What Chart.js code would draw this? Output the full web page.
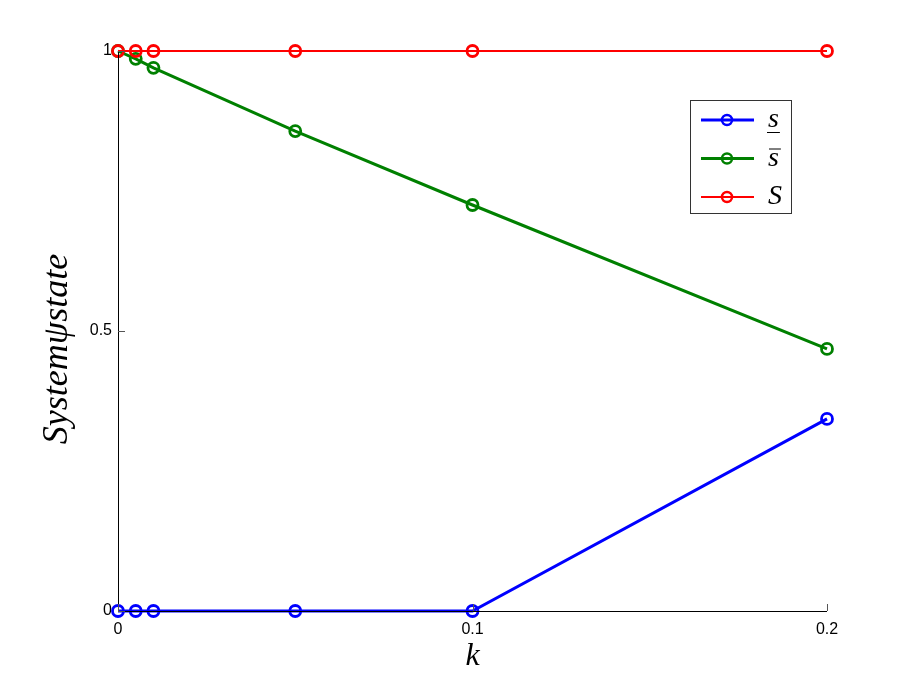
<!DOCTYPE html>
<html>
<head>
<meta charset="utf-8">
<script src="https://cdn.jsdelivr.net/npm/chart.js@4"></script>
<style>
  html, body { margin: 0; padding: 0; background: #fff; }
  #wrap { width: 914px; height: 688px; }
</style>
</head>
<body>
<div id="wrap"><canvas id="stateChart" width="914" height="688"></canvas></div>
<script>
// === Data ===
const kValues = [0, 0.005, 0.01, 0.05, 0.1, 0.2];
const sLower = [0, 0, 0, 0, 0, 0.343];
const sUpper = [1, 0.986, 0.97, 0.857, 0.725, 0.468];
const sTotal = [1, 1, 1, 1, 1, 1];
const xTicks = [0, 0.1, 0.2];
const yTicks = [0, 0.5, 1];
const seriesNames = ["s", "s", "S"];       // decorations: underline, overline, none
const seriesDeco = ["under", "over", "none"];
const seriesColors = ["#0000ff", "#008000", "#ff0000"];
const yTitle = "Systemψstate";

const toPoints = vals => kValues.map((k, i) => ({ x: k, y: vals[i] }));

// === Inward ticks + left/bottom axis lines (MATLAB style, box off) ===
const axesPlugin = {
  id: "matlabAxes",
  afterDatasetsDraw(chart) {
    const { ctx, chartArea: a, scales: { x, y } } = chart;
    ctx.save();
    ctx.strokeStyle = "#000";
    ctx.lineWidth = 1;
    ctx.beginPath();
    ctx.moveTo(a.left + 0.5, a.top);
    ctx.lineTo(a.left + 0.5, a.bottom + 0.5);
    ctx.lineTo(a.right, a.bottom + 0.5);
    ctx.stroke();
    ctx.strokeStyle = "#555";
    ctx.beginPath();
    xTicks.forEach(t => {
      const px = Math.round(x.getPixelForValue(t)) + 0.5;
      ctx.moveTo(px, a.bottom);
      ctx.lineTo(px, a.bottom - 7);
    });
    yTicks.forEach(t => {
      const py = Math.round(y.getPixelForValue(t)) + 0.5;
      ctx.moveTo(a.left, py);
      ctx.lineTo(a.left + 7, py);
    });
    ctx.stroke();

    // y axis title, placed like the MATLAB figure
    ctx.fillStyle = "#000";
    ctx.font = 'italic 36px "Liberation Serif"';
    ctx.textAlign = "center";
    ctx.textBaseline = "middle";
    ctx.translate(58, 349);
    ctx.rotate(-Math.PI / 2);
    ctx.fillText(yTitle, 0, 0);
    ctx.restore();
  }
};

// === Legend box (top right) ===
const legendPlugin = {
  id: "boxLegend",
  afterDraw(chart) {
    const { ctx } = chart;
    const bx = 690, by = 100, bw = 101, bh = 113;
    ctx.save();
    ctx.fillStyle = "#fff";
    ctx.fillRect(bx, by, bw, bh);
    ctx.strokeStyle = "#333";
    ctx.lineWidth = 1;
    ctx.strokeRect(bx + 0.5, by + 0.5, bw, bh);
    chart.data.datasets.forEach((ds, i) => {
      const yy = by + 20 + i * 38.5;
      ctx.strokeStyle = ds.borderColor;
      ctx.lineWidth = ds.borderWidth;
      ctx.beginPath();
      ctx.moveTo(bx + 11, yy);
      ctx.lineTo(bx + 64, yy);
      ctx.stroke();
      ctx.lineWidth = 2.5;
      ctx.beginPath();
      ctx.arc(bx + 37, yy, 5, 0, Math.PI * 2);
      ctx.stroke();

      ctx.fillStyle = "#000";
      ctx.font = 'italic 28px "Liberation Serif"';
      ctx.textBaseline = "alphabetic";
      ctx.textAlign = "left";
      const tx = bx + 78;
      const base = yy + 7;
      ctx.fillText(seriesNames[i], tx, base);
      const w = ctx.measureText(seriesNames[i]).width;
      ctx.lineWidth = 1;
      ctx.strokeStyle = "#000";
      if (seriesDeco[i] === "under") {
        ctx.beginPath();
        ctx.moveTo(tx - 1, base + 5.5);
        ctx.lineTo(tx + w + 1, base + 5.5);
        ctx.stroke();
      } else if (seriesDeco[i] === "over") {
        ctx.beginPath();
        ctx.moveTo(tx + 1, base - 16.5);
        ctx.lineTo(tx + w + 2, base - 16.5);
        ctx.stroke();
      }
    });
    ctx.restore();
  }
};

const mk = (vals, color, width, order) => ({
  data: toPoints(vals),
  borderColor: color,
  borderWidth: width,
  pointRadius: 5.5,
  pointBorderWidth: 2.8,
  pointBackgroundColor: "rgba(0,0,0,0)",
  pointBorderColor: color,
  showLine: true,
  fill: false,
  tension: 0,
  clip: false,
  order: order
});

new Chart(document.getElementById("stateChart"), {
  type: "scatter",
  data: {
    datasets: [
      mk(sLower, seriesColors[0], 3, 3),
      mk(sUpper, seriesColors[1], 3, 2),
      mk(sTotal, seriesColors[2], 2, 1)
    ]
  },
  options: {
    responsive: false,
    animation: false,
    layout: { padding: { top: 51, right: 87, left: 0, bottom: 0 } },
    plugins: { legend: { display: false }, tooltip: { enabled: false } },
    scales: {
      x: {
        type: "linear",
        min: 0, max: 0.2,
        afterFit: s => { s.height = 77; },
        afterBuildTicks: s => { s.ticks = xTicks.map(v => ({ value: v })); },
        grid: { display: false, drawTicks: false },
        border: { display: false },
        ticks: { color: "#000", font: { family: '"Liberation Sans"', size: 16 }, padding: 9, maxRotation: 0, callback: v => String(v) },
        title: { display: true, text: "k", color: "#000", font: { family: '"Liberation Serif"', style: "italic", size: 32 }, padding: { bottom: 12 } }
      },
      y: {
        type: "linear",
        min: 0, max: 1,
        afterFit: s => { s.width = 118; },
        afterBuildTicks: s => { s.ticks = yTicks.map(v => ({ value: v })); },
        grid: { display: false, drawTicks: false },
        border: { display: false },
        ticks: { color: "#000", font: { family: '"Liberation Sans"', size: 16 }, padding: 6, callback: v => String(v) },
        title: { display: false }
      }
    }
  },
  plugins: [axesPlugin, legendPlugin]
});
</script>
</body>
</html>
